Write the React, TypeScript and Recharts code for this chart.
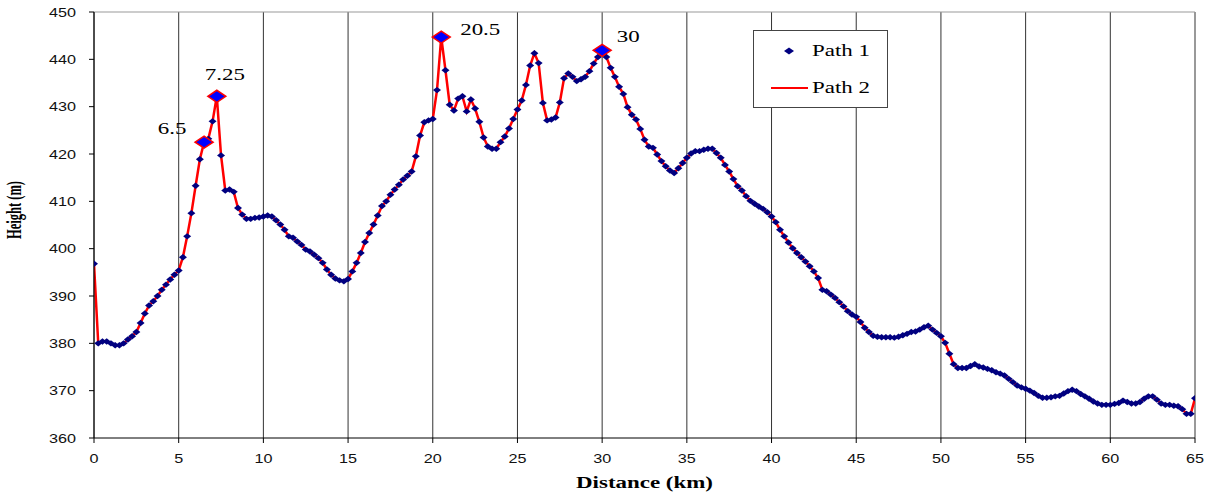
import React from 'react';
import {
	ComposedChart,
	Line,
	Scatter,
	XAxis,
	YAxis,
	CartesianGrid,
	ReferenceLine,
	Legend,
	Label,
} from 'recharts';

// [distance km, height m], every 0.25 km
const seg0to10: [number, number][] = [
	[0, 396.8], [0.25, 380.0], [0.5, 380.4], [0.75, 380.4], [1, 380.0], [1.25, 379.6], [1.5, 379.6], [1.75, 380.0],
	[2, 380.8], [2.25, 381.5], [2.5, 382.4], [2.75, 384.3], [3, 386.3], [3.25, 388.0], [3.5, 388.9], [3.75, 390.0],
	[4, 391.3], [4.25, 392.4], [4.5, 393.5], [4.75, 394.5], [5, 395.4], [5.25, 398.2], [5.5, 402.6], [5.75, 407.5],
	[6, 413.3], [6.25, 418.9], [6.5, 422.5], [6.75, 423.2], [7, 426.9], [7.25, 432.2], [7.5, 419.7], [7.75, 412.3],
	[8, 412.5], [8.25, 412.0], [8.5, 408.6], [8.75, 407.2], [9, 406.3], [9.25, 406.3], [9.5, 406.5], [9.75, 406.6],
];
const seg10to20: [number, number][] = [
	[10, 406.8], [10.25, 407.0], [10.5, 406.8], [10.75, 406.0], [11, 405.1], [11.25, 404.0], [11.5, 402.6], [11.75, 402.3],
	[12, 401.5], [12.25, 400.8], [12.5, 399.8], [12.75, 399.4], [13, 398.7], [13.25, 398.0], [13.5, 397.0], [13.75, 395.6],
	[14, 394.5], [14.25, 393.7], [14.5, 393.3], [14.75, 393.1], [15, 393.6], [15.25, 395.2], [15.5, 397.0], [15.75, 399.1],
	[16, 401.4], [16.25, 403.3], [16.5, 405.1], [16.75, 407.0], [17, 409.0], [17.25, 410.0], [17.5, 411.4], [17.75, 412.5],
	[18, 413.5], [18.25, 414.6], [18.5, 415.4], [18.75, 416.3], [19, 419.5], [19.25, 423.9], [19.5, 426.7], [19.75, 427.1],
];
const seg20to30: [number, number][] = [
	[20, 427.4], [20.25, 433.5], [20.5, 444.7], [20.75, 437.7], [21, 430.4], [21.25, 429.2], [21.5, 431.7], [21.75, 432.2],
	[22, 429.0], [22.25, 431.5], [22.5, 429.6], [22.75, 426.8], [23, 423.5], [23.25, 421.6], [23.5, 421.1], [23.75, 421.1],
	[24, 422.5], [24.25, 423.7], [24.5, 425.4], [24.75, 427.4], [25, 429.4], [25.25, 431.3], [25.5, 434.6], [25.75, 438.7],
	[26, 441.3], [26.25, 439.2], [26.5, 430.8], [26.75, 427.1], [27, 427.3], [27.25, 427.7], [27.5, 430.9], [27.75, 436.0],
	[28, 437.0], [28.25, 436.3], [28.5, 435.4], [28.75, 435.8], [29, 436.3], [29.25, 437.5], [29.5, 439.1], [29.75, 440.5],
];
const seg30to40: [number, number][] = [
	[30, 441.9], [30.25, 440.5], [30.5, 438.2], [30.75, 436.3], [31, 434.2], [31.25, 432.7], [31.5, 429.9], [31.75, 428.3],
	[32, 427.3], [32.25, 425.3], [32.5, 423.0], [32.75, 421.6], [33, 421.3], [33.25, 419.9], [33.5, 418.5], [33.75, 417.4],
	[34, 416.5], [34.25, 416.0], [34.5, 417.0], [34.75, 418.1], [35, 419.2], [35.25, 420.1], [35.5, 420.6], [35.75, 420.6],
	[36, 420.9], [36.25, 421.1], [36.5, 421.1], [36.75, 420.2], [37, 419.2], [37.25, 417.7], [37.5, 416.3], [37.75, 414.7],
	[38, 413.2], [38.25, 412.3], [38.5, 411.1], [38.75, 410.1], [39, 409.5], [39.25, 408.9], [39.5, 408.4], [39.75, 407.7],
];
const seg40to50: [number, number][] = [
	[40, 406.8], [40.25, 405.6], [40.5, 404.0], [40.75, 402.6], [41, 401.3], [41.25, 400.1], [41.5, 399.1], [41.75, 398.2],
	[42, 397.3], [42.25, 396.3], [42.5, 395.2], [42.75, 393.8], [43, 391.3], [43.25, 391.0], [43.5, 390.3], [43.75, 389.6],
	[44, 388.7], [44.25, 387.8], [44.5, 386.8], [44.75, 386.1], [45, 385.6], [45.25, 384.5], [45.5, 383.3], [45.75, 382.4],
	[46, 381.6], [46.25, 381.4], [46.5, 381.3], [46.75, 381.3], [47, 381.3], [47.25, 381.2], [47.5, 381.4], [47.75, 381.7],
	[48, 382.0], [48.25, 382.4], [48.5, 382.5], [48.75, 382.9], [49, 383.4], [49.25, 383.7], [49.5, 382.9], [49.75, 382.2],
];
const seg50to60: [number, number][] = [
	[50, 381.5], [50.25, 380.1], [50.5, 377.8], [50.75, 375.6], [51, 374.8], [51.25, 374.8], [51.5, 374.8], [51.75, 375.2],
	[52, 375.6], [52.25, 375.1], [52.5, 374.9], [52.75, 374.6], [53, 374.3], [53.25, 373.9], [53.5, 373.6], [53.75, 373.2],
	[54, 372.5], [54.25, 371.8], [54.5, 371.1], [54.75, 370.7], [55, 370.4], [55.25, 370.0], [55.5, 369.5], [55.75, 368.9],
	[56, 368.5], [56.25, 368.5], [56.5, 368.6], [56.75, 368.8], [57, 368.9], [57.25, 369.4], [57.5, 369.9], [57.75, 370.2],
	[58, 369.9], [58.25, 369.3], [58.5, 368.8], [58.75, 368.3], [59, 367.7], [59.25, 367.3], [59.5, 367.0], [59.75, 367.0],
];
const seg60to65: [number, number][] = [
	[60, 367.0], [60.25, 367.2], [60.5, 367.4], [60.75, 367.9], [61, 367.6], [61.25, 367.3], [61.5, 367.3], [61.75, 367.6],
	[62, 368.3], [62.25, 368.8], [62.5, 368.8], [62.75, 368.1], [63, 367.3], [63.25, 367.0], [63.5, 367.0], [63.75, 366.8],
	[64, 366.7], [64.25, 366.1], [64.5, 365.1], [64.75, 365.1], [65, 368.4],
];

// highlighted points with their labels
const peakKm = [6.5, 7.25, 20.5, 30];

const xTicks = [0, 5, 10, 15, 20, 25, 30, 35, 40, 45, 50, 55, 60, 65];
const yTicks = [360, 370, 380, 390, 400, 410, 420, 430, 440, 450];

// label placement relative to each highlighted point (style, not data)
const PEAK_LABEL_OFFSET: Record<string, [number, number]> = {
	'6.5': [-32, -8],
	'7.25': [8, -16],
	'20.5': [39, -2],
	'30': [26, -8],
};

const SANS = '"Liberation Sans", Arial, sans-serif';
const SERIF = '"Liberation Serif", "Times New Roman", serif';
const STRETCH = 1.35;
const NAVY = '#000080';
const RED = '#FF0000';

const profile = [...seg0to10, ...seg10to20, ...seg20to30, ...seg30to40, ...seg40to50, ...seg50to60, ...seg60to65].map(
	([km, h]) => ({ km, h }),
);
const peaks = peakKm.map((km) => ({ km, h: profile.find((p) => p.km === km)!.h, label: String(km) }));

function Diamond({ cx, cy, rx, ry, fill, stroke, strokeWidth }: any) {
	return (
		<polygon
			points={`${cx - rx},${cy} ${cx},${cy - ry} ${cx + rx},${cy} ${cx},${cy + ry}`}
			fill={fill}
			stroke={stroke}
			strokeWidth={strokeWidth}
		/>
	);
}

function XTick(props: any) {
	const { x, y, payload } = props;
	return (
		<text
			transform={`translate(${x},${y + 20}) scale(${STRETCH},1)`}
			textAnchor="middle"
			fontSize={12}
			fontFamily={SANS}
			fill="#111"
		>
			{payload.value}
		</text>
	);
}

function YTick(props: any) {
	const { x, y, payload } = props;
	return (
		<text
			transform={`translate(${x - 13},${y + 4.5}) scale(${STRETCH},1)`}
			textAnchor="end"
			fontSize={12}
			fontFamily={SANS}
			fill="#111"
		>
			{payload.value}
		</text>
	);
}

function XTitle(props: any) {
	const vb = props.viewBox || { x: 94, y: 438, width: 1101 };
	return (
		<text
			transform={`translate(${vb.x + vb.width / 2},${vb.y + 50}) scale(${STRETCH},1)`}
			textAnchor="middle"
			fontSize={17}
			fontWeight="bold"
			fontFamily={SERIF}
			fill="#000"
		>
			Distance (km)
		</text>
	);
}

function YTitle(props: any) {
	const vb = props.viewBox || { x: 0, y: 12, height: 426 };
	return (
		<text
			transform={`translate(${vb.x + 21},${vb.y + vb.height / 2 - 15}) rotate(-90) scale(1,1.6)`}
			textAnchor="middle"
			fontSize={12.5}
			fontWeight="bold"
			fontFamily={SERIF}
			fill="#000"
		>
			Height (m)
		</text>
	);
}

function PeakMarker(props: any) {
	const { cx, cy, payload } = props;
	const [dx, dy] = PEAK_LABEL_OFFSET[payload.label] ?? [0, -12];
	return (
		<g>
			<Diamond cx={cx} cy={cy} rx={9} ry={6} fill="#0000FF" stroke={RED} strokeWidth={1.5} />
			<text
				transform={`translate(${cx + dx},${cy + dy}) scale(${STRETCH},1)`}
				textAnchor="middle"
				fontSize={17}
				fontFamily={SERIF}
				fill="#000"
			>
				{payload.label}
			</text>
		</g>
	);
}

function LegendBox() {
	return (
		<svg width={135} height={78} style={{ display: 'block' }}>
			<rect x={0.5} y={0.5} width={134} height={77} fill="#fff" stroke="#444" />
			<Diamond cx={36} cy={21} rx={5} ry={3.5} fill={NAVY} />
			<text transform={`translate(59,26) scale(${STRETCH},1)`} fontSize={17} fontFamily={SERIF} fill="#000">
				Path 1
			</text>
			<line x1={18} x2={55} y1={58} y2={58} stroke={RED} strokeWidth={2} />
			<text transform={`translate(59,63) scale(${STRETCH},1)`} fontSize={17} fontFamily={SERIF} fill="#000">
				Path 2
			</text>
		</svg>
	);
}

export default function App() {
	return (
		<div style={{ position: 'absolute', left: 0, top: 0, width: 1205, height: 495, background: '#fff' }}>
			<ComposedChart width={1205} height={495} data={profile} margin={{ top: 12, right: 10, left: 0, bottom: 0 }}>
				<CartesianGrid horizontal={false} stroke="#333" strokeWidth={1} />
				<XAxis
					dataKey="km"
					type="number"
					domain={[0, 65]}
					ticks={xTicks}
					interval={0}
					height={57}
					tickSize={5}
					tickMargin={0}
					stroke="#000"
					tick={<XTick />}
					allowDataOverflow
				>
					<Label content={<XTitle />} />
				</XAxis>
				<YAxis
					dataKey="h"
					type="number"
					domain={[360, 450]}
					ticks={yTicks}
					interval={0}
					width={94}
					tickSize={5}
					tickMargin={0}
					stroke="#000"
					tick={<YTick />}
					allowDataOverflow
				>
					<Label content={<YTitle />} />
				</YAxis>
				<ReferenceLine y={450} stroke="#999" />
				<ReferenceLine x={65} stroke="#999" />
				<Line
					name="Path 2"
					dataKey="h"
					type="linear"
					stroke={RED}
					strokeWidth={2.5}
					dot={false}
					activeDot={false}
					isAnimationActive={false}
				/>
				<Scatter
					name="Path 1"
					data={profile}
					dataKey="h"
					fill={NAVY}
					shape={(p: any) => <Diamond cx={p.cx} cy={p.cy} rx={4} ry={3.2} fill={NAVY} />}
					isAnimationActive={false}
				/>
				<Scatter
					name="peaks"
					data={peaks}
					dataKey="h"
					legendType="none"
					shape={(p: any) => <PeakMarker {...p} />}
					isAnimationActive={false}
				/>
				<Legend
					layout="vertical"
					align="center"
					verticalAlign="middle"
					content={() => <LegendBox />}
					wrapperStyle={{ left: 753, top: 30, width: 135, height: 78 }}
				/>
			</ComposedChart>
		</div>
	);
}
